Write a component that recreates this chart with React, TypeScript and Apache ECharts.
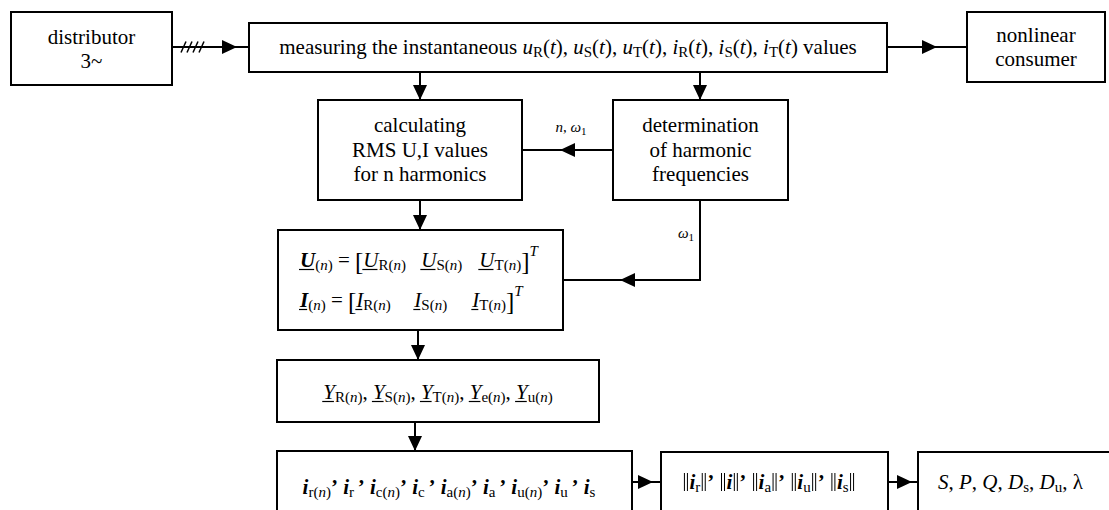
import React, { useEffect, useRef } from 'react';
import * as echarts from 'echarts';

const FONT_FAMILY = 'Liberation Serif';
const W = 1109;
const H = 510;

// ---------- text content ----------
const distributorText = ['distributor', '3~'];
const consumerText = ['nonlinear', 'consumer'];
const rmsText = ['calculating', 'RMS U,I values', 'for n harmonics'];
const freqText = ['determination', 'of harmonic', 'frequencies'];
const measuringPrefix = 'measuring the instantaneous ';
const measuringSuffix = ') values';
const measuredQuantities = ['u', 'i'];
const phaseSubs = ['R', 'S', 'T'];
const matrixSymbols = ['U', 'I'];
const admittanceSubs = ['R', 'S', 'T', 'e', 'u'];
const currentSubs = ['r', 'c', 'a', 'u'];
const lastCurrentSub = 's';
const normSubs = ['r', '', 'a', 'u', 's'];
const powerSymbols = ['S', 'P', 'Q', 'D', 'D'];
const powerSubs = ['', '', '', 's', 'u'];
const powerFactor = 'λ';
const harmonicLabel = ['n', 'ω', '1'];
const fundamentalLabel = ['ω', '1'];

// ---------- styles ----------
type St = { style: string; weight: string; size: number; dy: number };
const STYLES: Record<string, St> = {
  r: { style: 'normal', weight: 'normal', size: 21, dy: 0 },
  i: { style: 'italic', weight: 'normal', size: 21, dy: 0 },
  bi: { style: 'italic', weight: 'bold', size: 21, dy: 0 },
  b: { style: 'normal', weight: 'bold', size: 21, dy: 0 },
  sr: { style: 'normal', weight: 'normal', size: 15, dy: 5 },
  si: { style: 'italic', weight: 'normal', size: 15, dy: 5 },
  sup: { style: 'italic', weight: 'normal', size: 15, dy: -9 },
  big: { style: 'normal', weight: 'normal', size: 25, dy: 1 },
  lr: { style: 'normal', weight: 'normal', size: 15, dy: 0 },
  li: { style: 'italic', weight: 'normal', size: 15, dy: 0 },
  ls: { style: 'normal', weight: 'normal', size: 11, dy: 4 },
};

type Seg = { t?: string; k?: string; ul?: boolean; anchor?: boolean; gapTo?: number; bar?: boolean };
const BAR_W = 7;

function canvasFont(k: string) {
  const s = STYLES[k];
  return `${s.style} ${s.weight} ${s.size}px "${FONT_FAMILY}"`;
}

let mctx: CanvasRenderingContext2D | null = null;
function measure(t: string, k: string) {
  if (!mctx) mctx = document.createElement('canvas').getContext('2d');
  mctx!.font = canvasFont(k);
  return mctx!.measureText(t).width;
}

function textEl(t: string, x: number, y: number, k: string, align = 'left') {
  const s = STYLES[k];
  return {
    type: 'text',
    x,
    y,
    silent: true,
    style: {
      text: t,
      fontFamily: FONT_FAMILY,
      fontSize: s.size,
      fontStyle: s.style,
      fontWeight: s.weight,
      fill: '#000',
      align,
      verticalAlign: 'middle',
      textAlign: align,
      textVerticalAlign: 'middle',
    },
  };
}

function layoutRun(segs: Seg[], x: number, y: number, align: 'left' | 'center') {
  const pass = (x0: number) => {
    let cur = x0;
    let anchor = x0;
    const out: { seg: Seg; x: number; w: number }[] = [];
    for (const seg of segs) {
      if (seg.anchor) {
        anchor = cur;
        continue;
      }
      if (seg.gapTo != null) {
        cur = anchor + seg.gapTo;
        continue;
      }
      const w = seg.bar ? BAR_W : measure(seg.t!, seg.k!);
      out.push({ seg, x: cur, w });
      cur += w;
    }
    return { out, width: cur - x0 };
  };
  const first = pass(0);
  const x0 = align === 'center' ? x - first.width / 2 : x;
  const { out } = pass(x0);
  const els: any[] = [];
  for (const p of out) {
    if (p.seg.bar) {
      [2, 5].forEach((dx) =>
        els.push({
          type: 'line',
          silent: true,
          shape: { x1: p.x + dx, y1: y - 9, x2: p.x + dx, y2: y + 9 },
          style: { stroke: '#000', lineWidth: 1 },
        })
      );
      continue;
    }
    const st = STYLES[p.seg.k!];
    els.push(textEl(p.seg.t!, p.x, y + st.dy, p.seg.k!));
    if (p.seg.ul) {
      els.push({
        type: 'line',
        silent: true,
        shape: { x1: p.x - 1, y1: y + 9.5, x2: p.x + p.w - 1, y2: y + 9.5 },
        style: { stroke: '#000', lineWidth: 1.2 },
      });
    }
  }
  return els;
}

// ---------- segment builders ----------
const nSub = (): Seg[] => [
  { t: '(', k: 'sr' },
  { t: 'n', k: 'si' },
  { t: ')', k: 'sr' },
];

function measuringSegs(): Seg[] {
  const segs: Seg[] = [{ t: measuringPrefix, k: 'r' }];
  const all: [string, string][] = [];
  measuredQuantities.forEach((q) => phaseSubs.forEach((p) => all.push([q, p])));
  all.forEach(([q, p], idx) => {
    segs.push({ t: q, k: 'i' }, { t: p, k: 'sr' }, { t: '(', k: 'r' }, { t: 't', k: 'i' });
    if (idx < all.length - 1) segs.push({ t: '), ', k: 'r' });
  });
  segs.push({ t: measuringSuffix, k: 'r' });
  return segs;
}

function matrixSegs(sym: string): Seg[] {
  const segs: Seg[] = [
    { t: sym, k: 'bi', ul: true },
    ...nSub(),
    { t: ' ', k: 'r' },
    { t: '= ', k: 'r' },
    { t: '[', k: 'big' },
    { anchor: true },
  ];
  const cols = [0, 58, 116];
  phaseSubs.forEach((p, j) => {
    segs.push({ gapTo: cols[j] });
    segs.push({ t: sym, k: 'i', ul: true }, { t: p, k: 'sr' }, ...nSub());
  });
  segs.push({ t: ']', k: 'big' }, { t: 'T', k: 'sup' });
  return segs;
}

function admittanceSegs(): Seg[] {
  const segs: Seg[] = [];
  admittanceSubs.forEach((s, idx) => {
    segs.push({ t: 'Y', k: 'i', ul: true }, { t: s, k: 'sr' }, ...nSub());
    if (idx < admittanceSubs.length - 1) segs.push({ t: ', ', k: 'r' });
  });
  return segs;
}

function currentSegs(): Seg[] {
  const segs: Seg[] = [];
  const sep = (): Seg[] => [{ t: '’', k: 'b' }, { t: ' ', k: 'r' }];
  currentSubs.forEach((c) => {
    segs.push({ t: 'i', k: 'bi' }, { t: c, k: 'sr' }, ...nSub(), ...sep());
    segs.push({ t: 'i', k: 'bi' }, { t: c + ' ', k: 'sr' }, ...sep());
  });
  segs.push({ t: 'i', k: 'bi' }, { t: lastCurrentSub, k: 'sr' });
  return segs;
}

function normSegs(): Seg[] {
  const segs: Seg[] = [];
  normSubs.forEach((s, idx) => {
    segs.push({ bar: true }, { t: 'i', k: 'bi' });
    if (s) segs.push({ t: s, k: 'sr' });
    segs.push({ bar: true });
    if (idx < normSubs.length - 1) segs.push({ t: '’', k: 'b' }, { t: ' ', k: 'r' });
  });
  return segs;
}

function powerSegs(): Seg[] {
  const segs: Seg[] = [];
  powerSymbols.forEach((s, idx) => {
    segs.push({ t: s, k: 'i' });
    if (powerSubs[idx]) segs.push({ t: powerSubs[idx], k: 'sr' });
    segs.push({ t: ', ', k: 'r' });
  });
  segs.push({ t: powerFactor, k: 'r' });
  return segs;
}

function harmonicSegs(): Seg[] {
  return [
    { t: harmonicLabel[0], k: 'li' },
    { t: ', ', k: 'lr' },
    { t: harmonicLabel[1], k: 'li' },
    { t: harmonicLabel[2], k: 'ls' },
  ];
}

function fundamentalSegs(): Seg[] {
  return [
    { t: fundamentalLabel[0], k: 'li' },
    { t: fundamentalLabel[1], k: 'ls' },
  ];
}

// ---------- drawing helpers ----------
const box = (x: number, y: number, w: number, h: number) => ({
  type: 'rect',
  silent: true,
  shape: { x, y, width: w, height: h },
  style: { fill: '#fff', stroke: '#000', lineWidth: 2 },
});

const line = (pts: number[][], lw = 2) => ({
  type: 'polyline',
  silent: true,
  shape: { points: pts },
  style: { stroke: '#000', lineWidth: lw, fill: 'none' },
});

function head(tx: number, ty: number, dir: 'r' | 'l' | 'd') {
  const L = 15;
  const HW = 7;
  let pts: number[][];
  if (dir === 'r') pts = [[tx, ty], [tx - L, ty - HW], [tx - L, ty + HW]];
  else if (dir === 'l') pts = [[tx, ty], [tx + L, ty - HW], [tx + L, ty + HW]];
  else pts = [[tx, ty], [tx - HW, ty - L], [tx + HW, ty - L]];
  return { type: 'polygon', silent: true, shape: { points: pts }, style: { fill: '#000' } };
}

function centeredLines(lines: string[], cx: number, ys: number[]) {
  return lines.map((t, i) => textEl(t, cx, ys[i], 'r', 'center'));
}

function buildElements() {
  const els: any[] = [];
  // connectors
  els.push(line([[172, 47], [249, 47]]), head(237, 47, 'r'));
  [181, 187, 193, 199].forEach((x) => els.push(line([[x, 52.5], [x + 5, 41.5]], 1.5)));
  els.push(line([[887, 47], [967, 47]]), head(937, 47, 'r'));
  els.push(line([[420, 72], [420, 100]]), head(420, 100, 'd'));
  els.push(line([[700, 72], [700, 100]]), head(700, 100, 'd'));
  els.push(line([[522, 150], [613, 150]]), head(560, 150, 'l'));
  els.push(line([[420, 200], [420, 230]]), head(420, 230, 'd'));
  els.push(line([[700, 200], [700, 280], [563, 280]]), head(620, 280, 'l'));
  els.push(line([[418, 330], [418, 360]]), head(418, 360, 'd'));
  els.push(line([[415, 422], [415, 451]]), head(415, 451, 'd'));
  els.push(line([[632, 482], [661, 482]]), head(653, 482, 'r'));
  els.push(line([[888, 482], [918, 482]]), head(912, 482, 'r'));

  // boxes
  els.push(box(11, 12, 161, 73));
  els.push(box(249, 23, 638, 49));
  els.push(box(967, 12, 138, 70));
  els.push(box(318, 100, 204, 100));
  els.push(box(613, 100, 175, 100));
  els.push(box(278, 230, 285, 100));
  els.push(box(277, 360, 322, 62));
  els.push(box(277, 451, 355, 80));
  els.push(box(661, 452, 227, 80));
  els.push(box(918, 452, 220, 80));

  // texts
  els.push(...centeredLines(distributorText, 91.5, [37, 61]));
  els.push(...centeredLines(consumerText, 1036, [35, 59]));
  els.push(...centeredLines(rmsText, 420, [125, 150, 174]));
  els.push(...centeredLines(freqText, 700.5, [125, 150, 174]));
  els.push(...layoutRun(measuringSegs(), 568, 47, 'center'));
  els.push(...layoutRun(matrixSegs(matrixSymbols[0]), 300, 260, 'left'));
  els.push(...layoutRun(matrixSegs(matrixSymbols[1]), 300, 300, 'left'));
  els.push(...layoutRun(admittanceSegs(), 438, 392, 'center'));
  els.push(...layoutRun(currentSegs(), 449, 487, 'center'));
  els.push(...layoutRun(normSegs(), 769, 482, 'center'));
  els.push(...layoutRun(powerSegs(), 938, 482, 'left'));
  els.push(...layoutRun(harmonicSegs(), 571, 127, 'center'));
  els.push(...layoutRun(fundamentalSegs(), 678, 233, 'left'));
  return els;
}

export default function App() {
  const ref = useRef<HTMLDivElement>(null);
  useEffect(() => {
    const chart = echarts.init(ref.current!, null, { renderer: 'svg' });
    chart.setOption({
      animation: false,
      graphic: { elements: buildElements() },
    });
    return () => chart.dispose();
  }, []);
  return (
    <div
      ref={ref}
      style={{ position: 'fixed', left: 0, top: 0, width: W, height: H, background: '#fff' }}
    />
  );
}
